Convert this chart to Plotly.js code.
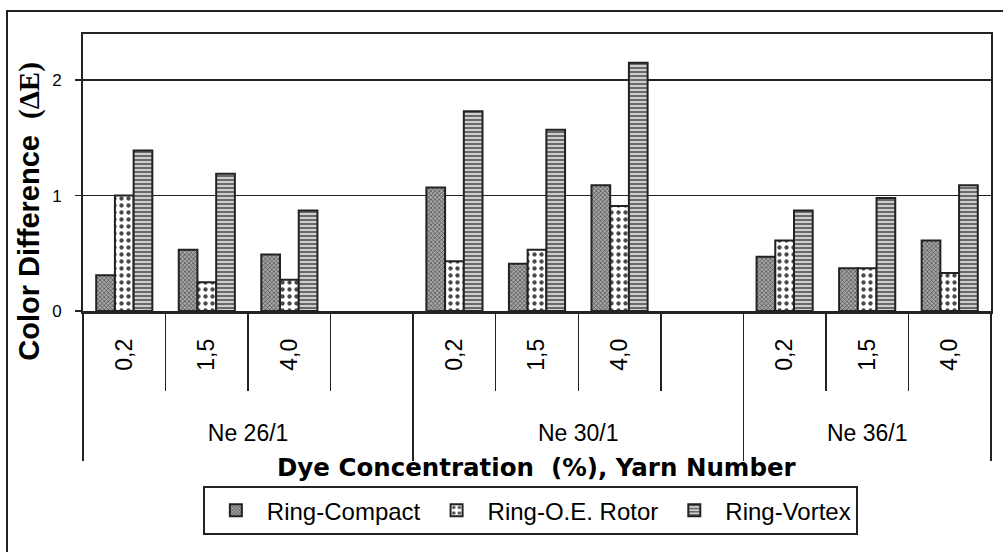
<!DOCTYPE html>
<html>
<head>
<meta charset="utf-8">
<script src="https://cdn.plot.ly/plotly-3.0.1.min.js"></script>
<style>
  html, body { margin: 0; padding: 0; background: #ffffff; }
  #chart { width: 1003px; height: 552px; }
</style>
</head>
<body>
<div id="chart"></div>
<script>
// ---- data ----
const yarnNumbers = ['Ne 26/1', 'Ne 30/1', 'Ne 36/1'];
const dyeConcentrations = ['0,2', '1,5', '4,0'];
const seriesNames = ['Ring-Compact', 'Ring-O.E. Rotor', 'Ring-Vortex'];
// values ordered: Ne26 (0,2 1,5 4,0), Ne30 (...), Ne36 (...)
const ringCompact = [0.31, 0.53, 0.49, 1.07, 0.41, 1.09, 0.47, 0.37, 0.61];
const ringOERotor = [1.00, 0.25, 0.27, 0.43, 0.53, 0.91, 0.61, 0.37, 0.33];
const ringVortex  = [1.39, 1.19, 0.87, 1.73, 1.57, 2.15, 0.87, 0.98, 1.09];
const yTicks = [0, 1, 2];

// ---- build slot layout (one empty spacer slot between yarn groups) ----
const slotX = [], slotLabels = [], groupStart = [], groupEnd = [];
let pos = 0;
yarnNumbers.forEach((g, gi) => {
  groupStart.push(pos - 0.5);
  dyeConcentrations.forEach(d => { slotX.push(pos); slotLabels.push(d); pos++; });
  if (gi < yarnNumbers.length - 1) pos++; // spacer
  groupEnd.push(pos - 0.5);
});
const nSlots = pos;
const boundaries = [];
for (let i = 0; i <= nSlots; i++) boundaries.push(i - 0.5);
const groupBounds = [groupStart[0]].concat(groupEnd);
const groupCenters = groupStart.map((s, i) => (s + groupEnd[i]) / 2);

const FONT = 'Liberation Sans, Arial, sans-serif';
const LINE = '#222222';

const styles = [
  { color: '#8c8c8c', pattern: { shape: 'x', size: 3, solidity: 0.35, fgcolor: '#3c3c3c', bgcolor: '#a6a6a6' } },
  { color: '#ffffff', pattern: { shape: '.', size: 7, solidity: 0.3, fgcolor: '#4a4a4a', bgcolor: '#ffffff' } },
  { color: '#8a8a8a', pattern: { shape: '-', size: 4, solidity: 0.6, fgcolor: '#6a6a6a', bgcolor: '#e6e6e6' } }
];
const seriesValues = [ringCompact, ringOERotor, ringVortex];

const traces = seriesNames.map((name, i) => ({
  type: 'bar',
  name: name,
  x: slotX,
  y: seriesValues[i],
  xaxis: 'x',
  yaxis: 'y',
  marker: {
    color: styles[i].color,
    pattern: styles[i].pattern,
    line: { color: LINE, width: 2 }
  },
  hoverinfo: 'x+y+name'
}));
// empty helper trace so the overlay axis (group labels) is created
traces.push({ type: 'scatter', x: [], y: [], xaxis: 'x2', yaxis: 'y', showlegend: false, hoverinfo: 'skip' });

const layout = {
  width: 1003,
  height: 552,
  margin: { l: 83, r: 12, t: 34, b: 241 },
  paper_bgcolor: '#ffffff',
  plot_bgcolor: '#ffffff',
  font: { family: FONT, color: '#000000' },
  barmode: 'group',
  bargap: 0.32,
  bargroupgap: 0,
  showlegend: true,
  legend: {
    orientation: 'h',
    x: 0.132, xanchor: 'left',
    y: -0.632, yanchor: 'top',
    bordercolor: LINE, borderwidth: 2,
    bgcolor: '#ffffff',
    font: { family: FONT, size: 24, color: '#000000' },
    itemwidth: 52,
    traceorder: 'normal'
  },
  xaxis: {
    type: 'linear',
    range: [-0.5, nSlots - 0.5],
    tickmode: 'array',
    tickvals: slotX,
    ticktext: slotLabels,
    tickangle: -90,
    ticks: '',
    ticklabelstandoff: 16,
    tickfont: { family: FONT, size: 23, color: '#000000' },
    showline: true, linecolor: LINE, linewidth: 2.5, mirror: true,
    showgrid: false, zeroline: false,
    minor: { tickmode: 'array', tickvals: boundaries, ticks: 'outside', ticklen: 77, tickwidth: 1.5, tickcolor: LINE, showgrid: false },
    fixedrange: true
  },
  xaxis2: {
    type: 'linear',
    overlaying: 'x', anchor: 'y', side: 'bottom',
    range: [-0.5, nSlots - 0.5],
    tickmode: 'array',
    tickvals: groupCenters,
    ticktext: yarnNumbers,
    ticks: '',
    ticklabelstandoff: 106,
    tickfont: { family: FONT, size: 23, color: '#000000' },
    showline: false, showgrid: false, zeroline: false,
    minor: { tickmode: 'array', tickvals: groupBounds, ticks: 'outside', ticklen: 149, tickwidth: 1.5, tickcolor: LINE, showgrid: false },
    fixedrange: true
  },
  yaxis: {
    range: [0, 2.4],
    tickmode: 'array',
    tickvals: yTicks,
    ticktext: yTicks.map(String),
    ticks: 'outside', ticklen: 6, tickwidth: 1.5, tickcolor: LINE,
    ticklabelstandoff: 10,
    tickfont: { family: FONT, size: 17, color: '#000000' },
    showline: true, linecolor: LINE, linewidth: 2, mirror: true,
    showgrid: true, gridcolor: LINE, gridwidth: 1.5,
    zeroline: false,
    fixedrange: true
  },
  annotations: [
    {
      text: 'Color Difference  <span style="font-family:Liberation Serif, Times New Roman, serif">(ΔE)</span>',
      xref: 'paper', yref: 'paper',
      x: -0.059, y: 0.36, xanchor: 'center', yanchor: 'middle',
      textangle: -90, showarrow: false,
      font: { family: FONT, size: 29, color: '#000000', weight: 'bold' }
    },
    {
      text: 'Dye Concentration  (%), Yarn Number',
      xref: 'paper', yref: 'paper',
      x: 0.5, y: -0.565, xanchor: 'center', yanchor: 'middle',
      showarrow: false,
      font: { family: 'DejaVu Sans, ' + FONT, size: 24.5, color: '#000000', weight: 'bold' }
    }
  ],
  shapes: [
    {
      type: 'rect', xref: 'paper', yref: 'paper',
      x0: -0.0837, x1: 1.03, y0: -0.92, y1: 1.083,
      line: { color: LINE, width: 2 }, fillcolor: 'rgba(0,0,0,0)', layer: 'below'
    }
  ]
};

Plotly.newPlot('chart', traces, layout, { staticPlot: true, displayModeBar: false });
</script>
</body>
</html>
